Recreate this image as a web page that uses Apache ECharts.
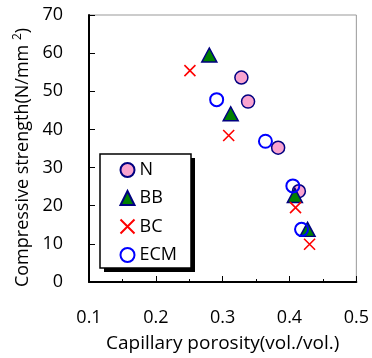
<!DOCTYPE html>
<html>
<head>
<meta charset="utf-8">
<script src="https://cdn.jsdelivr.net/npm/echarts@6/dist/echarts.min.js"></script>
<style>
  html, body { margin: 0; padding: 0; background: #fff; }
  #chart { width: 372px; height: 358px; }
</style>
</head>
<body>
<div id="chart"></div>
<script>
// capillary porosity (vol./vol.) vs compressive strength (N/mm2)
const nData = [[0.328, 53.6], [0.338, 47.3], [0.383, 35.2], [0.414, 23.8]];
const bbData = [[0.280, 59.5], [0.312, 44.1], [0.408, 22.7], [0.427, 13.8]];
const bcData = [[0.251, 55.4], [0.309, 38.4], [0.409, 19.5], [0.430, 9.9]];
const ecmData = [[0.291, 47.8], [0.364, 36.9], [0.405, 25.2], [0.418, 13.8]];

const font = 'Open Sans';
const crossPath = 'path://M0,0L10,10M10,0L0,10';

const chart = echarts.init(document.getElementById('chart'));
chart.setOption({
  animation: false,
  textStyle: { fontFamily: font },
  grid: {
    left: 89, right: 11, top: 15, bottom: 75,
    show: true, borderColor: '#999', borderWidth: 1
  },
  // legend frame with drop shadow
  graphic: [
    {
      type: 'rect', z: 3, silent: true,
      shape: { x: 104, y: 158, width: 91, height: 114 },
      style: { fill: '#000' }
    },
    {
      type: 'rect', z: 3, silent: true,
      shape: { x: 100, y: 154, width: 91, height: 114 },
      style: { fill: '#fff', stroke: '#000', lineWidth: 1.5 }
    }
  ],
  xAxis: {
    type: 'value', min: 0.1, max: 0.5, interval: 0.1,
    name: 'Capillary porosity(vol./vol.)',
    nameLocation: 'middle', nameGap: 52,
    nameTextStyle: { fontSize: 19, color: '#000', fontFamily: font },
    axisLine: { lineStyle: { color: '#000', width: 2 } },
    axisTick: { inside: true, length: 6, lineStyle: { color: '#000', width: 1 } },
    minorTick: { show: true, splitNumber: 2, length: 3, lineStyle: { color: '#000' } },
    axisLabel: { fontSize: 18, color: '#000', margin: 27, fontFamily: font },
    splitLine: { show: false }
  },
  yAxis: {
    type: 'value', min: 0, max: 70, interval: 10,
    name: 'Compressive strength(N/mm {sup|2})',
    nameLocation: 'middle', nameGap: 43,
    nameTextStyle: {
      fontSize: 18, color: '#000', fontFamily: font, padding: [0, 18, 0, 0],
      rich: { sup: { fontSize: 12, verticalAlign: 'top', color: '#000', fontFamily: font, padding: [0, 0, 10, 0] } }
    },
    axisLine: { show: true, lineStyle: { color: '#000', width: 2 } },
    axisTick: { show: true, inside: true, length: 6, lineStyle: { color: '#000', width: 1 } },
    axisLabel: { fontSize: 18, color: '#000', margin: 26, fontFamily: font },
    splitLine: { show: false }
  },
  legend: {
    orient: 'vertical', left: 100, top: 154, z: 4,
    padding: [7, 18, 6, 18],
    itemWidth: 14, itemHeight: 14, itemGap: 10,
    textStyle: { fontSize: 18, lineHeight: 18, color: '#000', fontFamily: font },
    data: ['N', 'BB', 'BC', 'ECM']
  },
  series: [
    {
      name: 'N', type: 'scatter', data: nData, symbol: 'circle', symbolSize: 13,
      itemStyle: { color: '#f9a3cf', borderColor: '#000080', borderWidth: 1.5, opacity: 1 }
    },
    {
      name: 'BB', type: 'scatter', data: bbData, symbol: 'triangle', symbolSize: [15, 14],
      itemStyle: { color: '#008000', borderColor: '#000080', borderWidth: 1.5, opacity: 1 }
    },
    {
      name: 'BC', type: 'scatter', data: bcData, symbol: crossPath, symbolSize: 11,
      itemStyle: { color: 'none', borderColor: '#ff0000', borderWidth: 1.6, opacity: 1 }
    },
    {
      name: 'ECM', type: 'scatter', data: ecmData, symbol: 'circle', symbolSize: 13,
      itemStyle: { color: 'rgba(255,255,255,0)', borderColor: '#0000ff', borderWidth: 2, opacity: 1 }
    }
  ]
});
</script>
</body>
</html>
